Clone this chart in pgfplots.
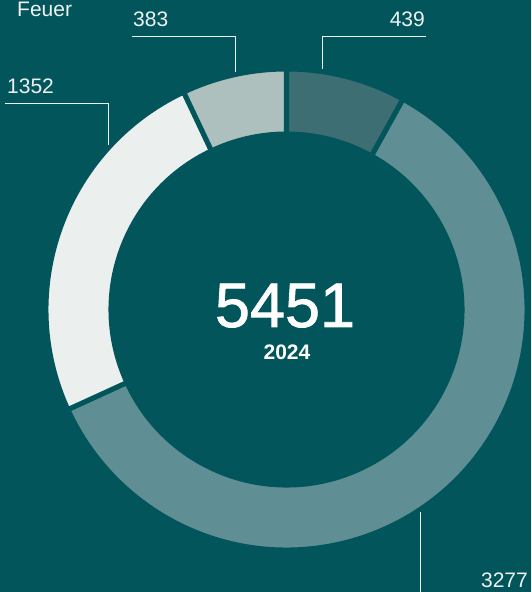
\documentclass[border=0pt]{standalone}
\usepackage{fontspec}
\setmainfont{Liberation Sans}
\newfontfamily\midfont[FakeBold=1.2]{Liberation Sans}
\usepackage{pgfplots}
\usepackage{pgfplotstable}
\pgfplotsset{compat=1.18}

\definecolor{bgc}{HTML}{02565B}
\definecolor{sA}{HTML}{3C6E73}
\definecolor{sB}{HTML}{5F8F95}
\definecolor{sC}{HTML}{EBEFEE}
\definecolor{sD}{HTML}{AEC0BD}
\definecolor{lbl}{HTML}{EEF2F2}

% clockwise from the top
\pgfplotstableread{
label value
439   439
3277  3277
1352  1352
383   383
}\slices

% one ring segment, angles in degrees
\newcommand\slice[3]{%
  \fill[#3, draw=bgc, line width=5pt, line join=round]
    ([shift={(#1:240.5pt)}]C) arc[start angle=#1, end angle=#2, radius=240.5pt]
    -- ([shift={(#2:175.5pt)}]C) arc[start angle=#2, end angle=#1, radius=175.5pt]
    -- cycle;}

\begin{document}
\begin{tikzpicture}
\pgfplotstablegetelem{0}{value}\of\slices \let\va\pgfplotsretval
\pgfplotstablegetelem{1}{value}\of\slices \let\vb\pgfplotsretval
\pgfplotstablegetelem{2}{value}\of\slices \let\vc\pgfplotsretval
\pgfplotstablegetelem{3}{value}\of\slices \let\vd\pgfplotsretval
\pgfmathsetmacro\tot{\va+\vb+\vc+\vd}
\pgfmathsetmacro\aA{90}
\pgfmathsetmacro\aB{\aA-360*(\va/\tot)}
\pgfmathsetmacro\aC{\aB-360*(\vb/\tot)}
\pgfmathsetmacro\aD{\aC-360*(\vc/\tot)}
\pgfmathsetmacro\aE{\aD-360*(\vd/\tot)}

\useasboundingbox (0,0) rectangle (531pt,592pt);
\clip (0,0) rectangle (531pt,592pt);

\begin{axis}[
    x=1pt, y=1pt,
    xmin=0, xmax=531, ymin=0, ymax=592,
    at={(0,0)}, anchor=south west,
    hide axis, clip=false,
  ]
  \fill[bgc] (axis cs:0,0) rectangle (axis cs:531,592);
  \coordinate (C) at (axis cs:286.5,282.5);

  \slice{\aA}{\aB}{sA}
  \slice{\aB}{\aC}{sB}
  \slice{\aC}{\aD}{sC}
  \slice{\aD}{\aE}{sD}

  % leader lines
  \draw[lbl, line width=1pt] (axis cs:322,523) -- (axis cs:322,555) -- (axis cs:426,555);
  \draw[lbl, line width=1pt] (axis cs:132,555) -- (axis cs:235,555) -- (axis cs:235,520);
  \draw[lbl, line width=1pt] (axis cs:5,488) -- (axis cs:108,488) -- (axis cs:108,447);
  \draw[lbl, line width=1pt] (axis cs:420,80) -- (axis cs:420,-2);

  \begin{scope}[every node/.style={inner sep=0pt, text=lbl, font=\fontsize{21}{25}\selectfont}]
    \node[anchor=base west] at (axis cs:17,575) {Feuer};
    \node[anchor=base west] at (axis cs:133,565) {383};
    \node[anchor=base east] at (axis cs:425,565) {439};
    \node[anchor=base west] at (axis cs:7,498) {1352};
    \node[anchor=base east] at (axis cs:528,5) {3277};
  \end{scope}

  \node[anchor=base, inner sep=0pt, text=white, font=\midfont\fontsize{63}{70}\selectfont]
    at (axis cs:285,265) {5451};
  \node[anchor=base, inner sep=0pt, text=white, font=\bfseries\fontsize{21}{25}\selectfont]
    at (axis cs:287,232) {2024};
\end{axis}
\end{tikzpicture}
\end{document}
